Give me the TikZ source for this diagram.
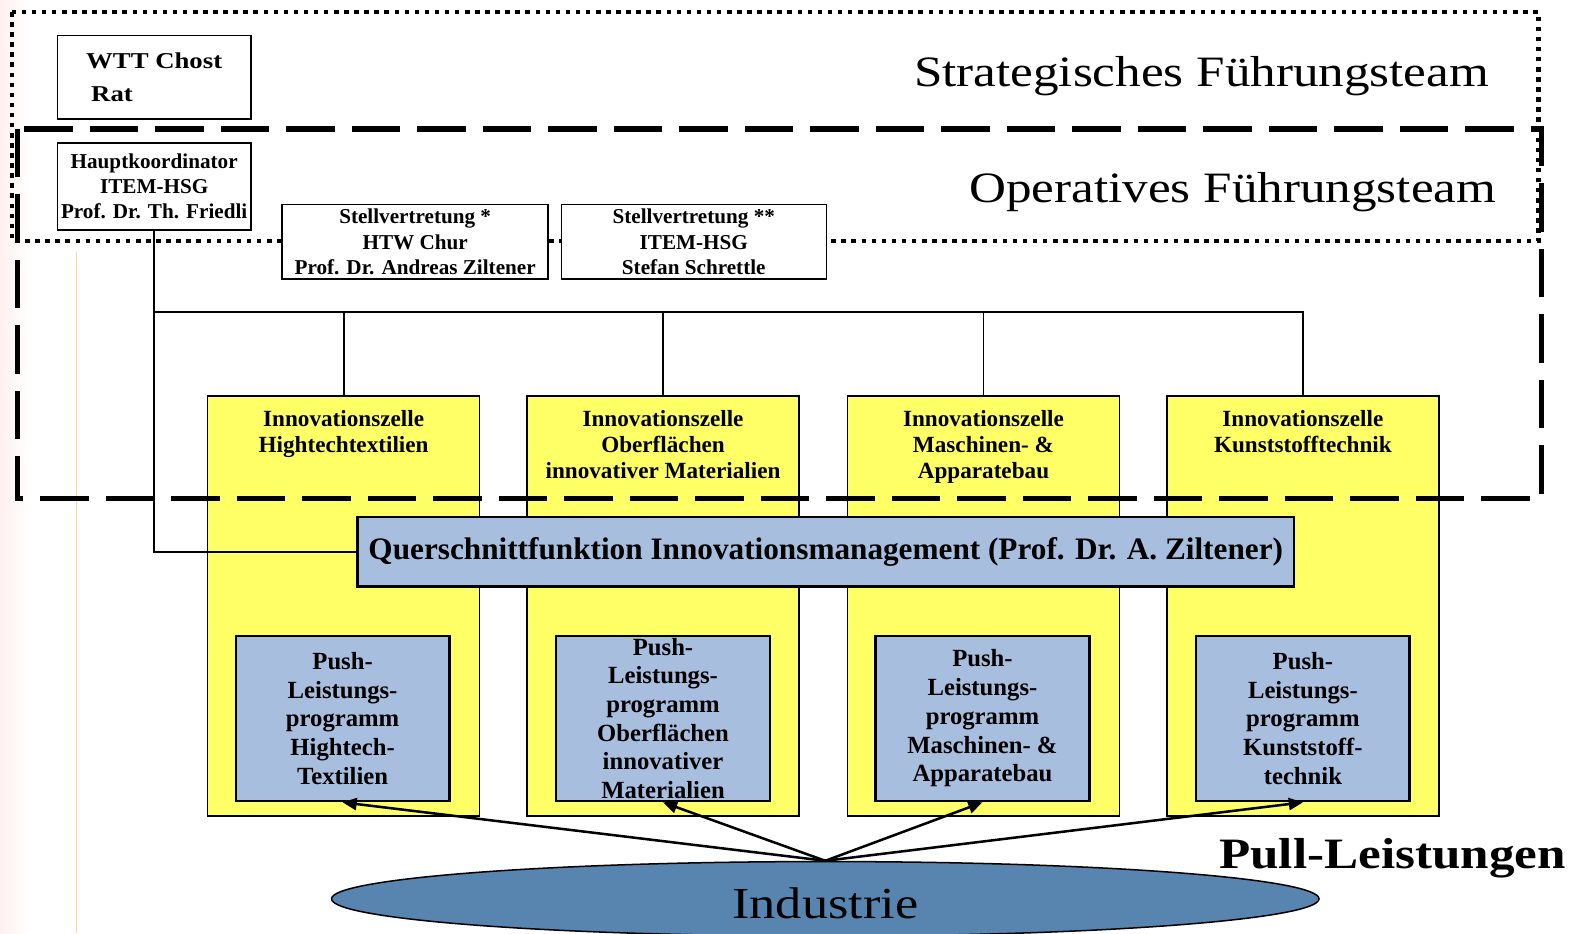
\documentclass[tikz,border=0pt]{standalone}
\usepackage{fontspec}
\setmainfont{Liberation Serif}
\newfontfamily\widefont{Liberation Serif}[FakeStretch=1.18]
\usetikzlibrary{arrows.meta,shapes.geometric,positioning}

\definecolor{cellyellow}{RGB}{255,255,102}
\definecolor{pushblue}{RGB}{168,190,222}
\definecolor{indublue}{RGB}{88,133,175}

\begin{document}
\begin{tikzpicture}[x=1pt,y=-1pt,
  box/.style={draw,line width=1.5pt,fill=white,align=center,inner sep=0pt,
    font=\bfseries\fontsize{21}{25}\selectfont},
  cell/.style={draw,line width=1.5pt,fill=cellyellow,minimum width=270pt,
    minimum height=417pt,inner sep=0pt},
  cellhead/.style={anchor=north,align=center,inner sep=0pt,
    font=\bfseries\fontsize{23}{25.5}\selectfont},
  push/.style={draw,line width=2.5pt,fill=pushblue,minimum width=212pt,
    minimum height=164pt,inner sep=0pt,align=center,
    font=\bfseries\fontsize{24.5}{28.5}\selectfont},
  title/.style={anchor=east,inner sep=0pt,font=\widefont\fontsize{43}{48}\selectfont},
  link/.style={line width=1.8pt},
  pull/.style={line width=2.5pt,-{Triangle[length=14pt,width=12pt]}},
  ]
\useasboundingbox (0,0) rectangle (1568,926);

% page edge
\shade[left color=red!6, right color=white] (0,0) rectangle (30,926);
\draw[orange!35, line width=1pt] (76,250) -- (76,926);

% innovation cells
\node[cell] (cellA) at (341,601.5) {};
\node[cell] (cellB) at (658,601.5) {};
\node[cell] (cellC) at (976,601.5) {};
\node[cell] (cellD) at (1293,601.5) {};
\node[cellhead] (hdrA) at ([yshift=-15pt]cellA.north) {Innovationszelle\\Hightechtextilien};
\node[cellhead] (hdrB) at ([yshift=-15pt]cellB.north) {Innovationszelle\\Oberflächen\\innovativer Materialien};
\node[cellhead] (hdrC) at ([yshift=-15pt]cellC.north) {Innovationszelle\\Maschinen- \&\\Apparatebau};
\node[cellhead] (hdrD) at ([yshift=-15pt]cellD.north) {Innovationszelle\\Kunststofftechnik};

% team frames
\draw[line width=4.5pt, dash pattern=on 4.5pt off 5.5pt] (12,12) rectangle (1527,239);
\draw[line width=5pt, dash pattern=on 48pt off 17pt] (17,128) rectangle (1530,495);
\node[title] (strat) at (1478,76) {Strategisches Führungsteam};
\node[title] (oper) at (1485,191) {Operatives Führungsteam};

% leadership
\node[box, minimum width=192pt, minimum height=83pt,
  font=\widefont\bfseries\fontsize{22.5}{32.5}\selectfont, align=left] (wtt) at (153,76.5)
  {WTT Chost\\\hspace*{5pt}Rat};
\node[box, minimum width=192pt, minimum height=86pt] (haupt) at (153,185)
  {Hauptkoordinator\\ITEM-HSG\\Prof. Dr. Th. Friedli};
\node[box, minimum width=264pt, minimum height=74pt] (stellA) at (412,240)
  {Stellvertretung *\\HTW Chur\\Prof. Dr. Andreas Ziltener};
\node[box, minimum width=263pt, minimum height=74pt] (stellB) at (688.5,240)
  {Stellvertretung **\\ITEM-HSG\\Stefan Schrettle};

\coordinate (bus) at (153,310);
\draw[link] (haupt.south) |- (cellD.north |- bus) -- (cellD.north);
\foreach \c in {A,B,C}
  \draw[link] (cell\c.north) -- (cell\c.north |- bus);

% cross function
\node[draw, line width=2.5pt, fill=pushblue, minimum width=929pt, minimum height=69pt,
  inner sep=0pt, font=\bfseries\fontsize{31}{36}\selectfont] (quer) at (819.5,547.5)
  {Querschnittfunktion Innovationsmanagement (Prof. Dr. A. Ziltener)};
\draw[link] (haupt.south) |- (quer.west);

% push programmes
\node[push] (pushA) at (340,713) {Push-\\Leistungs-\\programm\\Hightech-\\Textilien};
\node[push] (pushB) at (658,713) {Push-\\Leistungs-\\programm\\Oberflächen\\innovativer\\Materialien};
\node[push] (pushC) at (975,713) {Push-\\Leistungs-\\programm\\Maschinen- \&\\Apparatebau};
\node[push] (pushD) at (1293,713) {Push-\\Leistungs-\\programm\\Kunststoff-\\technik};

% industry
\node[ellipse, draw, line width=1.5pt, fill=indublue, minimum width=980pt,
  minimum height=74pt, inner sep=0pt] (indu) at (819,892) {};
\node[inner sep=0pt, font=\widefont\fontsize{44}{50}\selectfont] (indulabel)
  at ([yshift=-4pt]indu.center) {Industrie};
\foreach \c in {A,B,C,D}
  \draw[pull] (indu.north) -- (push\c.south);
\node[inner sep=0pt, font=\widefont\bfseries\fontsize{43}{48}\selectfont] (pulllabel)
  at (1382,852) {Pull-Leistungen};

\end{tikzpicture}
\end{document}
